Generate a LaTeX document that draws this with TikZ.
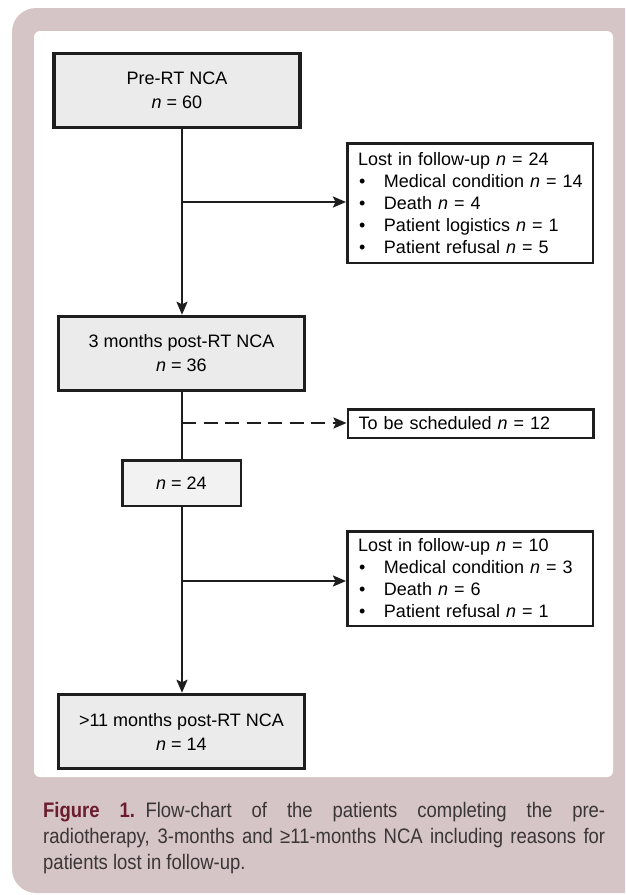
\documentclass[tikz,border=0pt]{standalone}
\usepackage{fontspec}
\setmainfont{Liberation Sans}
\newfontfamily\capfont[FakeStretch=0.88]{Liberation Sans}
\usetikzlibrary{arrows.meta}
\definecolor{bgpink}{HTML}{D6C5C6}
\definecolor{boxfill}{HTML}{EBEBEB}
\definecolor{smallfill}{HTML}{F2F2F2}
\definecolor{edge}{HTML}{1E1E1E}
\definecolor{figred}{HTML}{6B1C2D}
\definecolor{captext}{HTML}{3A3536}
\newcommand{\lbul}[1]{\mbox{\hspace*{1pt}\makebox[25pt][l]{\textbullet}#1}}
\tikzset{
  mainbox/.style={draw=edge, line width=3.5pt, fill=boxfill, align=center, inner sep=0pt,
    minimum width=246pt, minimum height=74pt, font=\fontsize{18}{24}\selectfont},
  smallbox/.style={draw=edge, line width=2.5pt, fill=smallfill, align=center, inner sep=0pt,
    minimum width=118.5pt, minimum height=45.5pt, font=\fontsize{18}{24}\selectfont},
  listbox/.style={draw=edge, line width=2.5pt, fill=white, align=left, inner xsep=10.75pt, inner ysep=0pt,
    text width=224pt, font=\fontsize{18}{22}\selectfont},
  conn/.style={draw=edge, line width=2pt},
  arr/.style={conn, -{Stealth[length=13pt, width=11pt, inset=2.5pt]}},
}
\begin{document}
\begin{tikzpicture}[x=1pt, y=-1pt]
\useasboundingbox (0,0) rectangle (625,895);
\clip (0,0) rectangle (625,895);
% backgrounds
\fill[bgpink, rounded corners=24pt] (12,8) rectangle (660,893);
\fill[white, rounded corners=6pt] (34,31) rectangle (613,777);
% spine
\coordinate (sx) at (182,0);
% boxes
\node[mainbox] (pre) at (177,90.5) {Pre-RT NCA\\\textit{n} = 60};
\node[mainbox] (m3) at (181.5,353.5) {3 months post-RT NCA\\\textit{n} = 36};
\node[smallbox] (n24) at (181.5,483) {\textit{n} = 24};
\node[mainbox] (m11) at (181.5,731.5) {>11 months post-RT NCA\\\textit{n} = 14};
\node[listbox, minimum height=119.5pt] (lost1) at (470,203) {\mbox{Lost in follow-up \textit{n} = 24}\\
\lbul{Medical condition \textit{n} = 14}\\
\lbul{Death \textit{n} = 4}\\
\lbul{Patient logistics \textit{n} = 1}\\
\lbul{Patient refusal \textit{n} = 5}};
\node[listbox, minimum height=28.5pt] (sched) at (470.5,423.5) {\mbox{To be scheduled \textit{n} = 12}};
\node[listbox, minimum height=94.5pt] (lost2) at (470,578.5) {\mbox{Lost in follow-up \textit{n} = 10}\\
\lbul{Medical condition \textit{n} = 3}\\
\lbul{Death \textit{n} = 6}\\
\lbul{Patient refusal \textit{n} = 1}};
% connectors
\draw[arr] (pre.south -| sx) -- (m3.north -| sx);
\coordinate (b1) at (182,202);
\draw[arr] (b1) -- (b1 -| lost1.west);
\draw[conn] (m3.south -| sx) -- (n24.north -| sx);
\coordinate (b2) at (182,423);
\draw[arr, dash pattern=on 14pt off 7.5pt] (b2) -- (b2 -| sched.west);
\draw[arr] (n24.south -| sx) -- (m11.north -| sx);
\coordinate (b3) at (182,581);
\draw[arr] (b3) -- (b3 -| lost2.west);
% caption
\node[anchor=base west, inner sep=0pt, text=captext] (cap) at (43,802) {\parbox[t]{562pt}{\capfont\fontsize{21}{26}\selectfont
{\color{figred}\bfseries Figure 1.}\enspace Flow-chart of the patients completing the pre-\linebreak
radiotherapy, 3-months and ≥11-months NCA including reasons for\linebreak
patients lost in follow-up.}};
\end{tikzpicture}
\end{document}
